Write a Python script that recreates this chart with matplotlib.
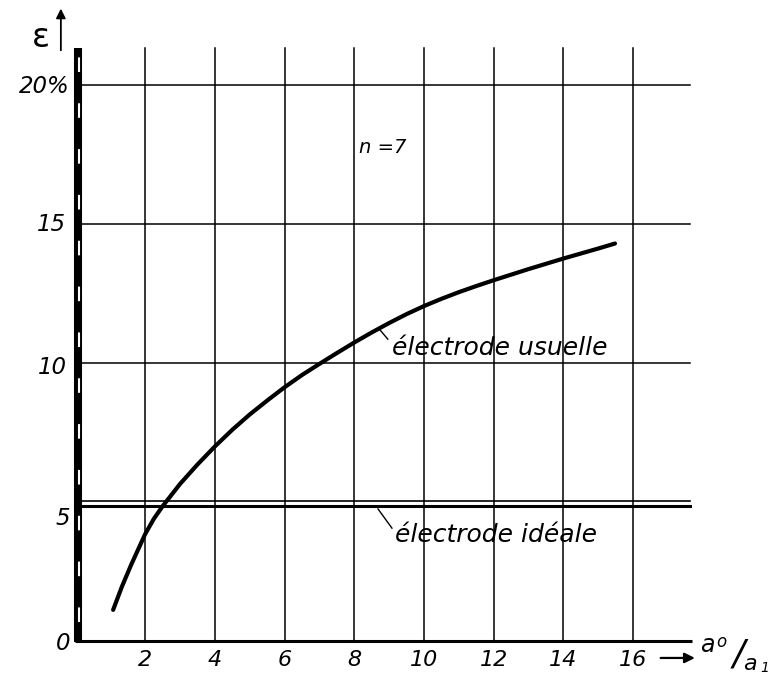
import matplotlib
matplotlib.use("Agg")
import matplotlib.pyplot as plt

# courbe "électrode usuelle": epsilon (%) en fonction de a0/a1
ratio = [1.08, 1.33, 1.6, 2.0, 2.25, 2.5, 3.0, 3.5, 4.0, 4.5, 5.0, 5.5, 6.0, 6.5, 7.0, 7.5, 8.0,
         8.5, 9.0, 9.5, 10.0, 10.5, 11.0, 11.5, 12.0, 12.5, 13.0, 13.5, 14.0, 14.5, 15.0, 15.48]
eps_usuelle = [1.12, 1.95, 2.75, 3.85, 4.4, 4.85, 5.65, 6.35, 7.0, 7.6, 8.15, 8.65, 9.13, 9.57,
               9.97, 10.36, 10.74, 11.1, 11.44, 11.76, 12.05, 12.31, 12.55, 12.77, 12.98, 13.18,
               13.38, 13.57, 13.76, 13.94, 14.12, 14.3]
# électrode idéale: double trait vers 5 %
eps_ideale = [4.87, 5.05]

x_ticks = [2, 4, 6, 8, 10, 12, 14, 16]
y_ticks = [5, 10, 15, 20]
y_tick_labels = ["5", "10", "15", "20%"]

FONT = dict(family="DejaVu Sans", style="italic", color="black")

fig = plt.figure(figsize=(7.75, 6.77), dpi=100)
ax = fig.add_axes([0, 0, 1, 1])
ax.set_xlim(-2.166, 20.07)
ax.set_ylim(-1.295, 23.06)
ax.axis("off")

x_end = 17.63
y_grid_top = 21.33

# grille
for xv in x_ticks:
    ax.plot([xv, xv], [0, y_grid_top], color="black", lw=1.1)
for yv in y_ticks[1:]:
    ax.plot([0, x_end], [yv, yv], color="black", lw=1.1)

# axe des abscisses
ax.plot([0, x_end + 0.07], [0, 0], color="black", lw=2.2, solid_capstyle="butt")
# axe des ordonnées: trait épais avec tirets blancs
ax.plot([0.07, 0.07], [-0.04, y_grid_top], color="black", lw=5.8, solid_capstyle="butt")
ax.plot([0.1, 0.1], [0.7, y_grid_top - 0.3], color="white", lw=1.5, ls=(0, (7, 15)))

# électrode idéale
ax.plot([0, x_end], [eps_ideale[1], eps_ideale[1]], color="black", lw=1.2)
ax.plot([0, x_end], [eps_ideale[0], eps_ideale[0]], color="black", lw=2.2)

# électrode usuelle
ax.plot(ratio, eps_usuelle, color="black", lw=3.0, solid_capstyle="round",
        solid_joinstyle="round")

# étiquettes des axes
for xv in x_ticks:
    ax.text(xv, -0.68, str(xv), ha="center", va="center", fontsize=16, **FONT)
ax.text(-0.27, 15, "15", ha="right", va="center", fontsize=16.5, **FONT)
ax.text(-0.24, 9.85, "10", ha="right", va="center", fontsize=16.5, **FONT)
ax.text(-0.16, 4.4, "5", ha="right", va="center", fontsize=16.5, **FONT)
ax.text(-0.16, 19.95, y_tick_labels[-1], ha="right", va="center", fontsize=16.5, **FONT)
ax.text(-0.16, -0.1, "0", ha="right", va="center", fontsize=16.5, **FONT)

# epsilon avec flèche
ax.text(-0.99, 21.7, "ε", ha="center", va="center", fontsize=24,
        family="DejaVu Sans", color="black")
ax.annotate("", xy=(-0.42, 22.85), xytext=(-0.42, 21.15),
            arrowprops=dict(arrowstyle="-|>", color="black", lw=1.3, mutation_scale=14))

# a0/a1 avec flèche
ax.annotate("", xy=(17.85, -0.61), xytext=(16.71, -0.61),
            arrowprops=dict(arrowstyle="-|>", color="black", lw=1.6, mutation_scale=15))
ax.text(18.13, -0.14, "a", ha="center", va="center", fontsize=17, **FONT)
ax.text(18.52, -0.02, "o", ha="center", va="center", fontsize=12, **FONT)
ax.text(19.03, -0.5, "/", ha="center", va="center", fontsize=26, **FONT)
ax.text(19.36, -1.05, "a", ha="center", va="baseline", fontsize=16, **FONT)
ax.text(19.78, -1.12, "1", ha="center", va="baseline", fontsize=10, **FONT)

# annotations
ax.text(8.82, 17.77, "n =7", ha="center", va="center", fontsize=14, **FONT)
ax.text(9.08, 10.29, "électrode usuelle", ha="left", va="baseline", fontsize=18, **FONT)
ax.plot([8.73, 8.96], [11.2, 10.86], color="black", lw=1.0)
ax.text(9.17, 3.56, "électrode idéale", ha="left", va="baseline", fontsize=18, **FONT)
ax.plot([8.68, 9.08], [4.75, 4.06], color="black", lw=1.0)

fig.savefig("out.png", dpi=100)
